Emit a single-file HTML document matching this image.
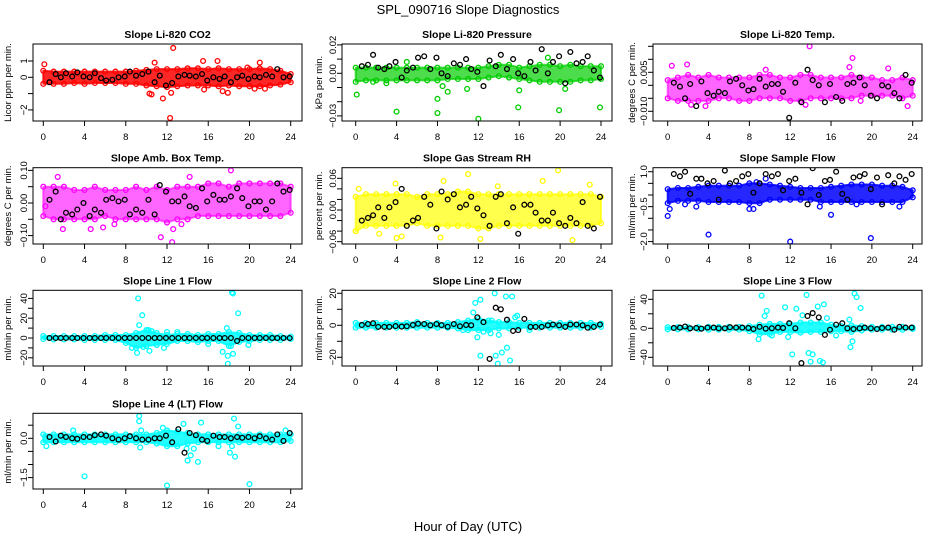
<!DOCTYPE html>
<html><head><meta charset="utf-8"><style>
body{margin:0;background:#fff;}
svg{display:block;font-family:"Liberation Sans",sans-serif;}
</style></head><body>
<svg id="chart" width="936" height="540" viewBox="0 0 936 540">
<text x="468" y="14" text-anchor="middle" font-size="13">SPL_090716  Slope Diagnostics</text>
<text x="468" y="531" text-anchor="middle" font-size="13">Hour of Day (UTC)</text>
</svg>
<script>
const hourTicks=[0,4,8,12,16,20,24];
const bandHours=[0,1,2,3,4,5,6,7,8,9,10,11,12,13,14,15,16,17,18,19,20,21,22,23,24];
const blackHours=[0.6,1.2,1.7,2.2,2.8,3.3,3.9,4.5,5.0,5.6,6.1,6.7,7.3,7.9,8.4,9.0,9.6,10.2,10.8,11.3,11.9,12.5,13.1,13.7,14.2,14.8,15.4,15.9,16.5,17.1,17.6,18.2,18.8,19.3,19.9,20.5,21.0,21.6,22.2,22.7,23.3,23.9];

const co2Lo=[-0.4,-0.4,-0.4,-0.35,-0.4,-0.35,-0.35,-0.35,-0.4,-0.4,-0.5,-0.55,-0.6,-0.55,-0.5,-0.5,-0.5,-0.55,-0.5,-0.55,-0.55,-0.55,-0.5,-0.45,-0.3];
const co2Hi=[0.4,0.35,0.35,0.35,0.35,0.35,0.35,0.35,0.35,0.4,0.45,0.5,0.5,0.5,0.55,0.55,0.5,0.55,0.5,0.5,0.5,0.55,0.5,0.4,0.2];
const co2Out=[[12.6,1.8],[12.3,-2.5],[11.6,-1.3],[12.4,-0.95],[10.3,-1],[10.8,0.9],[15.5,1],[16.9,1],[17.4,-0.85],[17.9,-0.95],[19.8,0.6],[21,0.9],[0.1,0.8],[20.5,-0.7],[21.5,-0.7],[10.5,-1.05],[15.6,-0.75]];
const co2Black=[-0.3,0.2,0,0.25,0.05,0.3,0.05,0,0.25,-0.05,-0.2,-0.15,0,0.05,0.35,0.1,0.2,0.35,-0.3,0.1,-0.5,-0.35,0.05,0.15,0.1,0.05,0.2,-0.2,0,-0.1,0.05,-0.3,0,0.1,-0.1,0.05,0,0.15,0.05,0.5,0,0.05];

const presLo=[-0.006,-0.005,-0.005,-0.005,-0.005,-0.005,-0.005,-0.005,-0.005,-0.004,-0.004,-0.004,-0.004,-0.003,-0.002,-0.003,-0.004,-0.005,-0.006,-0.006,-0.006,-0.006,-0.005,-0.005,-0.004];
const presHi=[0.004,0.004,0.004,0.004,0.004,0.004,0.004,0.004,0.004,0.004,0.004,0.004,0.004,0.005,0.006,0.006,0.004,0.005,0.006,0.006,0.005,0.006,0.005,0.005,0.005];
const presOut=[[0.1,-0.015],[4,-0.027],[8,-0.028],[8,-0.018],[12,-0.032],[15.9,-0.024],[19.9,-0.026],[23.9,-0.024],[9,-0.013],[8.5,-0.009],[10.9,-0.011],[16,-0.012],[20.5,-0.011],[18.8,0.011],[5,0.008],[1.7,-0.006],[3,-0.007]];
const presBlack=[0.005,0.006,0.013,0.004,0.003,0.005,0.008,-0.003,0.002,0.004,0.011,0.012,0.003,0.011,0,-0.002,0.007,0.006,0.01,0.003,0.001,-0.009,0.009,0.005,0.013,0.003,0.01,0,-0.002,0.008,0.002,0.017,0,0.008,0.012,-0.007,0.015,0.007,0.008,0.012,0.002,-0.003];

const tempLo=[-0.005,-0.006,-0.006,-0.006,-0.006,-0.005,-0.005,-0.006,-0.006,-0.005,-0.005,-0.005,-0.006,-0.006,-0.005,-0.005,-0.005,-0.005,-0.005,-0.004,-0.004,-0.004,-0.004,-0.005,-0.004];
const tempHi=[0.002,0.003,0.004,0.003,0.004,0.003,0.003,0.003,0.003,0.004,0.004,0.003,0.003,0.004,0.004,0.003,0.003,0.003,0.004,0.003,0.003,0.002,0.002,0.003,0.002];
const tempOut=[[13.9,0.015],[18.1,0.0105],[0.4,0.0075],[1.9,0.008],[2.3,-0.0075],[3.7,-0.008],[13.5,-0.0075],[18.9,-0.006],[23.5,-0.008],[17.8,0.007],[9.6,0.006],[21.6,0.0065]];
const tempBlack=[0.001,-0.0005,-0.005,0.0005,-0.008,0.0015,-0.003,-0.004,-0.0025,-0.003,0.0015,0.0025,0,-0.002,-0.0015,0.0025,-0.0005,0.0005,0.0005,-0.0025,-0.0125,0.001,-0.0065,0.006,0.002,0,-0.0065,0.0005,-0.0045,-0.006,0.0005,0.001,0.003,0,-0.004,-0.005,0,-0.0005,-0.003,-0.005,0.004,0.001];

const ambLo=[-0.04,-0.05,-0.05,-0.05,-0.05,-0.05,-0.04,-0.05,-0.05,-0.05,-0.05,-0.05,-0.06,-0.05,-0.05,-0.04,-0.04,-0.04,-0.04,-0.04,-0.04,-0.04,-0.04,-0.04,-0.03];
const ambHi=[0.05,0.05,0.05,0.04,0.04,0.05,0.04,0.04,0.04,0.05,0.04,0.05,0.04,0.05,0.05,0.05,0.06,0.06,0.05,0.06,0.06,0.06,0.06,0.06,0.05];
const ambOut=[[1.4,0.08],[18.2,0.1],[14.2,0.08],[11.4,-0.105],[12.5,-0.12],[4.6,-0.08],[0.2,-0.01],[5.8,-0.075],[6.9,-0.065],[13.4,-0.065],[12.6,-0.08],[1.9,-0.08]];
const ambBlack=[0.01,0.035,-0.05,-0.03,-0.035,-0.02,0,-0.04,-0.02,-0.03,0.01,0.015,0.005,0.01,-0.035,-0.02,-0.03,0.01,-0.035,0.055,0.035,0.005,0.005,0.02,-0.01,-0.015,0.045,0.005,0.025,0.01,0.01,0.02,0.045,0.015,-0.01,0.005,0.005,-0.02,0.005,0.06,0.035,0.04];

const rhLo=[-0.04,-0.03,-0.03,-0.03,-0.03,-0.03,-0.025,-0.03,-0.03,-0.03,-0.03,-0.03,-0.035,-0.035,-0.03,-0.03,-0.03,-0.03,-0.03,-0.03,-0.03,-0.03,-0.03,-0.03,-0.025];
const rhHi=[0.025,0.03,0.03,0.03,0.03,0.03,0.025,0.03,0.03,0.03,0.035,0.035,0.03,0.03,0.03,0.03,0.03,0.03,0.03,0.03,0.03,0.03,0.03,0.03,0.025];
const rhOut=[[19.8,0.075],[11,0.068],[3.9,0.05],[21.2,-0.057],[4,-0.053],[0,-0.04],[18.3,0.055],[8.6,0.055],[13.9,0.045],[4.5,-0.05],[8.3,-0.052],[12.2,-0.055],[2.3,-0.045],[0.3,0.04],[22.9,0.048]];
const rhBlack=[-0.02,-0.015,-0.01,0.005,-0.015,0.005,0.015,0.04,-0.03,-0.02,-0.015,0.025,0.01,-0.035,0.035,0.02,0.03,0.005,0.01,0.025,0.003,-0.01,-0.03,0.025,0.03,-0.025,0.005,-0.045,0.01,0.01,-0.005,-0.02,-0.02,-0.005,-0.025,-0.03,-0.015,-0.025,0.015,-0.03,-0.035,0.025];

const sfLo=[-0.35,-0.25,-0.25,-0.25,-0.3,-0.3,-0.3,-0.3,-0.35,-0.35,-0.2,-0.2,-0.2,-0.2,-0.2,-0.3,-0.3,-0.3,-0.3,-0.3,-0.3,-0.3,-0.3,-0.3,-0.1];
const sfHi=[0.25,0.3,0.3,0.35,0.4,0.4,0.4,0.4,0.5,0.5,0.45,0.4,0.35,0.3,0.3,0.3,0.35,0.4,0.45,0.45,0.45,0.4,0.4,0.35,0.2];
const sfOut=[[4,-1.7],[12,-2],[19.9,-1.85],[16,-0.85],[0,-0.9],[0.2,-0.6],[22.7,-0.5],[8,-0.6],[8.4,-0.6],[1.7,-0.4],[2.8,-0.5],[14.9,-0.5],[18.5,-0.4],[9.6,0.7],[8.7,0.55]];
const sfBlack=[0.9,0.8,1.0,0.05,0.7,0.7,0.5,0.6,-0.2,1.05,0.5,0.6,0.8,0.9,0.1,0.5,0.9,0.8,0.9,0.2,0.6,0.7,0.1,-0.4,1.15,0,0.6,0.65,1.0,0.05,-0.2,0.75,0.8,0.9,0.25,0.75,-0.4,0.85,0.5,0.8,0.65,0.9];

const l1Lo=[-1,-1.5,-1.5,-1.5,-2,-2,-2,-2,-5,-10,-8,-7,-6,-3,-3,-4,-3,-3,-8,-4,-3,-2,-2,-2,-1];
const l1Hi=[2,2,2,2,2,2,3,3,3,5,8,5,3,4,4,3,4,4,6,5,3,3,3,2,1.5];
const l1Out=[[9.2,40],[9.6,23],[9.3,13],[9.1,-15],[10.3,-13],[11.7,-10],[8.6,-10],[9.7,-9],[17.4,-14],[17.9,-18],[17.9,-26],[18.4,-16],[18.3,46],[18.4,45],[18.9,25],[17.8,10],[18.2,-8],[16,-6],[19.9,-7],[10.2,8],[13,6],[12,6],[10.5,7]];
const l1Black=[0,0,0,0,0,0,0,0,0,0,0,0,0,0,0,0,0,0,0,0,0,0,0,0,0,0,0,0,0,0,0,0,-3,0,0,0,0,0,0,0,0,0];

const l2Lo=[-1.5,-1.5,-1.5,-1.5,-1.5,-1.5,-1.5,-1.5,-1.5,-1.5,-2,-3,-3,-3,-2,-2,-1.5,-1.5,-1.5,-1.5,-1.5,-1.5,-1.5,-1.5,-1];
const l2Hi=[1.5,1.5,1.5,1.5,1.5,1.5,2,1.5,1.5,1.5,2,3,4,3,2,2,1.5,1.5,1.5,1.5,1.5,1.5,1.5,1.5,1];
const l2Out=[[11.7,14],[12.2,16],[13.6,20],[14.7,18],[15.3,18],[11.5,8],[11.9,-7.5],[12.2,-19],[13.7,-19],[13.9,-24],[14.3,-17],[14.8,-14],[15.1,-22],[12.5,-4],[13.2,-5],[14,-6],[15.6,5],[15.8,6],[13.3,3],[17,-3],[10.5,-3]];
const l2Black=[0.2,0.8,1.3,-1,-1,-1,-0.5,-0.8,-0.6,0.2,1,0.8,0,0.8,0.1,-0.9,0.8,-0.6,0.2,0,5,2,-21,11,10,3.5,-3.5,-3,4,-1,-1,-1,0,0.5,0,-1,0.5,0.5,0,-1.5,-1,0.5];

const l3Lo=[-1.5,-1.5,-1.5,-1.5,-2,-2,-2,-2,-4,-8,-8,-5,-5,-6,-5,-5,-4,-4,-5,-3,-2,-2,-2,-2,-1];
const l3Hi=[1.5,1.5,1.5,1.5,2,2,2,2,3,5,6,6,6,8,8,8,5,3,4,3,2,2,2,2,1];
const l3Out=[[9.2,45],[9.5,17],[9.7,24],[11.5,29],[12.6,27],[13.6,46],[14.7,30],[15.3,33],[18.3,48],[18.5,43],[18.9,28],[12.2,-36],[13.8,-34],[14.2,-36],[14,-46],[14.9,-45],[15.2,-47],[8.9,-15],[17.9,-26],[18.1,-18],[17.8,12],[15.6,14],[13.2,18],[16.5,-10],[10.2,-10],[11.8,-12]];
const l3Black=[0.5,1,2.5,0,0.5,-0.5,1,1,0,0,1.5,1,1,0.5,-1,2,-0.5,0,1,0.5,7,0,-48,17,21,15,-9,-2,5,7,0,-1,0,1,0,-1,0.5,1,-2,2,1,1];

const l4Lo=[-0.15,-0.15,-0.15,-0.15,-0.15,-0.15,-0.15,-0.15,-0.15,-0.15,-0.15,-0.2,-0.3,-0.3,-0.2,-0.15,-0.15,-0.15,-0.15,-0.15,-0.15,-0.15,-0.15,-0.15,-0.1];
const l4Hi=[0.15,0.15,0.15,0.15,0.15,0.15,0.15,0.15,0.15,0.15,0.15,0.2,0.3,0.25,0.2,0.15,0.15,0.15,0.15,0.15,0.15,0.15,0.15,0.15,0.15];
const l4Out=[[0.3,-0.3],[4,-1.45],[12,-1.8],[20,-1.75],[9.3,0.85],[9.3,0.65],[9.5,0.3],[9.4,-0.35],[11.6,0.4],[13.6,0.55],[15.3,0.6],[18.5,0.75],[18.9,0.45],[18.6,-0.7],[18.1,-0.55],[14,-0.85],[14.3,-0.65],[15,-0.9],[14.6,-0.4],[2.9,0.3],[23.5,0.3],[18.3,-0.3],[17,-0.3],[13.9,-0.4]];
const l4Black=[0.05,-0.12,0.1,0.05,0,-0.02,0.05,0.05,0.12,0.15,0.1,0,-0.05,0,0.08,0,-0.05,-0.05,0,0,0.1,-0.15,0.35,-0.55,0.2,0.12,-0.05,-0.1,0.1,0.05,0.05,0,0.05,0.02,0.05,0,0.08,0,-0.05,0.15,-0.1,0.2];

const NS='http://www.w3.org/2000/svg';
const svg=document.getElementById('chart');
function mk(tag,attrs,parent){const e=document.createElementNS(NS,tag);for(const k in attrs)e.setAttribute(k,attrs[k]);(parent||svg).appendChild(e);return e;}

const cols=[{L:33,R:302,a:43.3,b:290.7,lab:11},{L:342,R:612,a:355.7,b:601,lab:322},{L:653,R:922,a:667.7,b:912.7,lab:635}];
const rows=[{T:44,B:121},{T:167.7,B:244},{T:290.3,B:366},{T:413.3,B:489}];

const panels=[
 {c:0,r:0,title:'Slope Li-820 CO2',ylab:'Licor ppm per min.',color:'#ff0000',op:0.85,lo:co2Lo,hi:co2Hi,out:co2Out,blk:co2Black,y0:77.3,ppu:16.3,ticks:[-2,-1,0,1],labels:[1,0,-2],fmt:v=>String(v).replace('-','\u2212'),name:'co2'},
 {c:1,r:0,title:'Slope Li-820 Pressure',ylab:'kPa per min.',color:'#00cd00',op:0.7,lo:presLo,hi:presHi,out:presOut,blk:presBlack,y0:73.3,ppu:1420,ticks:[-0.03,-0.02,-0.01,0,0.01,0.02],labels:[0.02,0,-0.03],fmt:v=>v.toFixed(2).replace('-','\u2212'),name:'pressure'},
 {c:2,r:0,title:'Slope Li-820 Temp.',ylab:'degrees C per min.',color:'#ff00ff',op:0.6,lo:tempLo,hi:tempHi,out:tempOut,blk:tempBlack,y0:85.3,ppu:2600,ticks:[-0.01,-0.005,0,0.005,0.01,0.015],labels:[0.005,-0.01],fmt:v=>v.toFixed(3).replace('-','\u2212'),name:'li820-temp'},
 {c:0,r:1,title:'Slope Amb. Box Temp.',ylab:'degrees C per min.',color:'#ff00ff',op:0.6,lo:ambLo,hi:ambHi,out:ambOut,blk:ambBlack,y0:203,ppu:326,ticks:[-0.1,-0.05,0,0.05,0.1],labels:[0.1,0,-0.1],fmt:v=>v.toFixed(2).replace('-','\u2212'),name:'amb-box-temp'},
 {c:1,r:1,title:'Slope Gas Stream RH',ylab:'percent per min.',color:'#ffff00',op:0.7,lo:rhLo,hi:rhHi,out:rhOut,blk:rhBlack,y0:210,ppu:528,ticks:[-0.06,-0.04,-0.02,0,0.02,0.04,0.06],labels:[0.06,0,-0.06],fmt:v=>v.toFixed(2).replace('-','\u2212'),name:'gas-stream-rh'},
 {c:2,r:1,title:'Slope Sample Flow',ylab:'ml/min per min.',color:'#0000ff',op:0.85,lo:sfLo,hi:sfHi,out:sfOut,blk:sfBlack,y0:195,ppu:23.3,ticks:[-2,-1.5,-1,-0.5,0,0.5,1],labels:[1,-0.5,-2],fmt:v=>v.toFixed(1).replace('-','\u2212'),name:'sample-flow'},
 {c:0,r:2,title:'Slope Line 1 Flow',ylab:'ml/min per min.',color:'#00ffff',op:0.85,lo:l1Lo,hi:l1Hi,out:l1Out,blk:l1Black,y0:338,ppu:0.99,ticks:[-20,-10,0,10,20,30,40],labels:[40,20,0,-20],fmt:v=>String(v).replace('-','\u2212'),name:'line1-flow'},
 {c:1,r:2,title:'Slope Line 2 Flow',ylab:'ml/min per min.',color:'#00ffff',op:0.85,lo:l2Lo,hi:l2Hi,out:l2Out,blk:l2Black,y0:325.3,ppu:1.6,ticks:[-20,-10,0,10,20],labels:[20,0,-20],fmt:v=>String(v).replace('-','\u2212'),name:'line2-flow'},
 {c:2,r:2,title:'Slope Line 3 Flow',ylab:'ml/min per min.',color:'#00ffff',op:0.85,lo:l3Lo,hi:l3Hi,out:l3Out,blk:l3Black,y0:328.3,ppu:0.725,ticks:[-40,-20,0,20,40],labels:[40,0,-40],fmt:v=>String(v).replace('-','\u2212'),name:'line3-flow'},
 {c:0,r:3,title:'Slope Line 4 (LT) Flow',ylab:'ml/min per min.',color:'#00ffff',op:0.85,lo:l4Lo,hi:l4Hi,out:l4Out,blk:l4Black,y0:438.3,ppu:26.2,ticks:[-1.5,-1,-0.5,0,0.5],labels:[0,-1.5],fmt:v=>v.toFixed(1).replace('-','\u2212'),name:'line4-flow'}
];

panels.forEach(p=>{
 const C=cols[p.c],R=rows[p.r];
 const g=mk('g',{});
 
 
 const xs=h=>C.a+(C.b-C.a)*h/24;
 const ys=v=>p.y0-v*p.ppu;
 const clipId='clip-'+p.name;
 const cp=mk('clipPath',{id:clipId},g);
 mk('rect',{x:C.L,y:R.T,width:C.R-C.L,height:R.B-R.T},cp);
 const plot=mk('g',{'clip-path':'url(#'+clipId+')'},g);
 let d='';
 bandHours.forEach((h,i)=>{d+=(i?'L':'M')+xs(h).toFixed(1)+' '+ys(p.hi[i]).toFixed(1);});
 for(let i=bandHours.length-1;i>=0;i--)d+='L'+xs(bandHours[i]).toFixed(1)+' '+ys(p.lo[i]).toFixed(1);
 const band=mk('path',{d:d+'Z',fill:p.color,'fill-opacity':p.op,stroke:p.color,'stroke-opacity':p.op,'stroke-width':2,'stroke-linejoin':'round'},plot);
 
 
 bandHours.forEach((h,i)=>{
  [p.hi[i],p.lo[i]].forEach(v=>{
   const c=mk('circle',{cx:xs(h),cy:ys(v),r:2.4,fill:'none',stroke:p.color,'stroke-width':1.3},plot);
   
   
  });
 });
 p.out.forEach(o=>{
  const c=mk('circle',{cx:xs(o[0]),cy:ys(o[1]),r:2.4,fill:'none',stroke:p.color,'stroke-width':1.3},plot);
  
  
 });
 const n=Math.min(blackHours.length,p.blk.length);
 for(let i=0;i<n;i++){
  const c=mk('circle',{cx:xs(blackHours[i]),cy:ys(p.blk[i]),r:2.4,fill:'none',stroke:'#000','stroke-width':1.3},plot);
  
  
 }
 const fr=mk('rect',{x:C.L,y:R.T,width:C.R-C.L,height:R.B-R.T,fill:'none',stroke:'#000','stroke-width':1},g);
 
 
 mk('line',{x1:xs(0),x2:xs(24),y1:R.B,y2:R.B,stroke:'#000'},g);
 hourTicks.forEach(h=>{
  mk('line',{x1:xs(h),x2:xs(h),y1:R.B,y2:R.B+5,stroke:'#000'},g);
  const t=mk('text',{x:xs(h),y:R.B+19,'text-anchor':'middle','font-size':9.5},g);
  t.textContent=h;
  
  
 });
 const tv=p.ticks;
 mk('line',{x1:C.L,x2:C.L,y1:ys(Math.min(...tv)),y2:ys(Math.max(...tv)),stroke:'#000'},g);
 tv.forEach(v=>{mk('line',{x1:C.L-5,x2:C.L,y1:ys(v),y2:ys(v),stroke:'#000'},g);});
 p.labels.forEach(v=>{
  const y=ys(v),x=C.L-6;
  const t=mk('text',{x:x,y:y,'text-anchor':'middle','font-size':9.5,transform:'rotate(-90 '+x+' '+y+')'},g);
  t.textContent=p.fmt(v);
  
  
 });
 const cy=(R.T+R.B)/2;
 const yl=mk('text',{x:C.lab,y:cy,'text-anchor':'middle','font-size':9.5,transform:'rotate(-90 '+C.lab+' '+cy+')'},g);
 yl.textContent=p.ylab;
 
 
 const ti=mk('text',{x:(C.L+C.R)/2,y:R.T-6,'text-anchor':'middle','font-size':10.5,'font-weight':'bold'},g);
 ti.textContent=p.title;
 
 
});
</script>
</body></html>
